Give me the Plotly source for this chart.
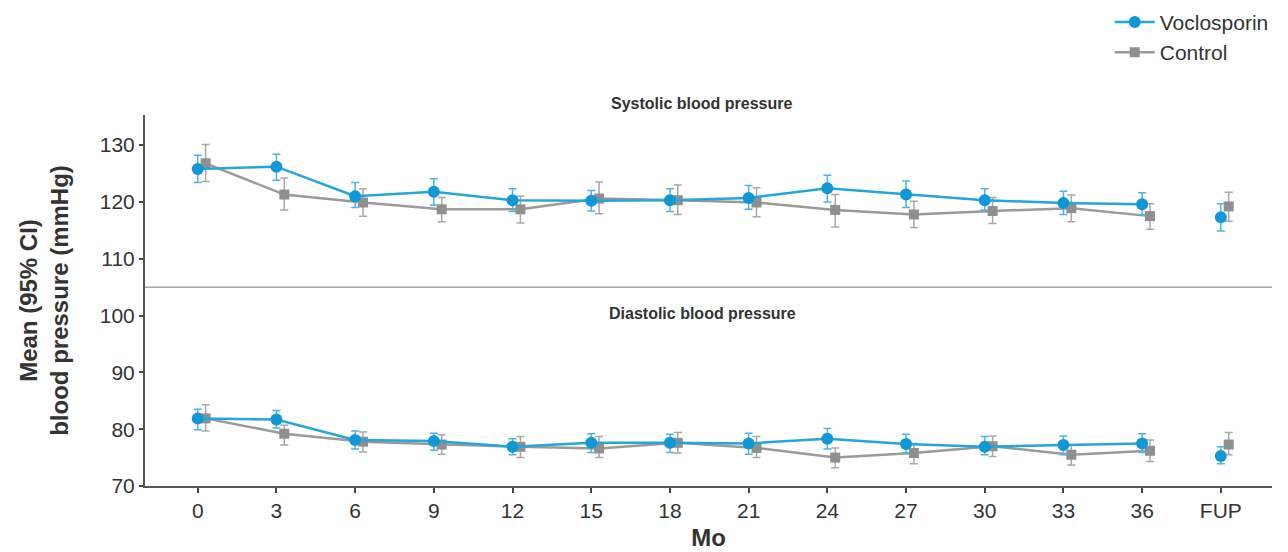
import plotly.graph_objects as go

months = ["0", "3", "6", "9", "12", "15", "18", "21", "24", "27", "30", "33", "36", "FUP"]

# Systolic blood pressure (mmHg): mean, lower CI, upper CI
sys_voc = [125.8, 126.2, 121.0, 121.8, 120.3, 120.2, 120.3, 120.7, 122.4, 121.3, 120.3, 119.8, 119.6, 117.3]
sys_voc_lo = [123.4, 123.8, 119.0, 119.4, 118.3, 118.4, 118.3, 118.7, 120.0, 119.0, 118.6, 117.8, 117.7, 114.9]
sys_voc_hi = [128.2, 128.4, 123.4, 124.1, 122.3, 122.0, 122.3, 122.9, 124.7, 123.7, 122.3, 121.9, 121.6, 119.7]
sys_ctl = [126.8, 121.3, 119.9, 118.7, 118.7, 120.6, 120.3, 119.9, 118.6, 117.8, 118.4, 118.9, 117.5, 119.2]
sys_ctl_lo = [123.6, 118.6, 117.5, 116.5, 116.3, 117.9, 117.8, 117.4, 115.6, 115.5, 116.2, 116.5, 115.2, 116.6]
sys_ctl_hi = [130.1, 124.2, 122.3, 120.8, 121.0, 123.5, 123.0, 122.5, 121.3, 120.1, 120.8, 121.2, 119.7, 121.7]

# Diastolic blood pressure (mmHg)
dia_voc = [81.9, 81.7, 78.1, 77.9, 76.9, 77.6, 77.6, 77.5, 78.3, 77.4, 76.9, 77.2, 77.5, 75.3]
dia_voc_lo = [79.9, 80.2, 76.5, 76.3, 75.5, 75.9, 75.9, 75.6, 76.5, 75.8, 75.5, 75.5, 75.9, 73.9]
dia_voc_hi = [83.5, 83.3, 79.7, 79.3, 78.3, 79.2, 79.1, 79.3, 80.1, 79.1, 78.7, 78.8, 79.2, 76.9]
dia_ctl = [81.9, 79.2, 77.8, 77.3, 76.9, 76.6, 77.6, 76.7, 75.0, 75.8, 77.0, 75.5, 76.2, 77.3]
dia_ctl_lo = [79.7, 77.2, 76.0, 75.6, 75.0, 75.0, 75.8, 75.0, 73.2, 73.9, 75.2, 73.7, 74.3, 75.5]
dia_ctl_hi = [84.3, 80.7, 79.5, 79.0, 78.7, 78.7, 79.4, 78.7, 76.7, 77.5, 78.8, 77.2, 78.1, 79.4]

BLUE = "#0f98d6"
BLUE_LINE = "#22a6dc"
BLUE_ERR = "#4fb4e2"
GRAY = "#8f8f8f"
GRAY_LINE = "#9a9a9a"
GRAY_ERR = "#a8a8a8"

fig = go.Figure()

n = len(months)
pos = list(range(n))
ctl_off = 0.1


def add_series(name, mean, lo, hi, offset, color, lcolor, ecolor, symbol, size, show, group):
    xs = [p + offset for p in pos]
    ep = [h - m for h, m in zip(hi, mean)]
    em = [m - l for m, l in zip(mean, lo)]
    # connected visits (0-36)
    fig.add_trace(go.Scatter(
        x=xs[:-1], y=mean[:-1], mode="lines+markers", name=name,
        legendgroup=group, showlegend=show,
        line=dict(color=lcolor, width=2.5),
        marker=dict(color=color, symbol=symbol, size=size),
        error_y=dict(type="data", symmetric=False, array=ep[:-1], arrayminus=em[:-1],
                     color=ecolor, thickness=1.5, width=4),
    ))
    # follow-up point (not connected)
    fig.add_trace(go.Scatter(
        x=xs[-1:], y=mean[-1:], mode="markers", name=name,
        legendgroup=group, showlegend=False,
        marker=dict(color=color, symbol=symbol, size=size),
        error_y=dict(type="data", symmetric=False, array=ep[-1:], arrayminus=em[-1:],
                     color=ecolor, thickness=1.5, width=4),
    ))


add_series("Control", sys_ctl, sys_ctl_lo, sys_ctl_hi, ctl_off, GRAY, GRAY_LINE, GRAY_ERR, "square", 10, False, "ctl")
add_series("Control", dia_ctl, dia_ctl_lo, dia_ctl_hi, ctl_off, GRAY, GRAY_LINE, GRAY_ERR, "square", 10, False, "ctl")
add_series("Voclosporin", sys_voc, sys_voc_lo, sys_voc_hi, 0, BLUE, BLUE_LINE, BLUE_ERR, "circle", 12, True, "voc")
add_series("Voclosporin", dia_voc, dia_voc_lo, dia_voc_hi, 0, BLUE, BLUE_LINE, BLUE_ERR, "circle", 12, False, "voc")

# legend entry for Control (after Voclosporin)
fig.add_trace(go.Scatter(
    x=[None], y=[None], mode="lines+markers", name="Control", legendgroup="ctl",
    line=dict(color=GRAY_LINE, width=2.5), marker=dict(color=GRAY, symbol="square", size=10),
))

fig.add_shape(type="line", xref="paper", yref="y", x0=0, x1=1, y0=105, y1=105,
              line=dict(color="#a6a6a6", width=1.5))

fig.add_annotation(text="<b>Systolic blood pressure</b>", xref="paper", yref="paper",
                   x=0.494, y=1.032, yanchor="middle", showarrow=False,
                   font=dict(size=16, color="#333333"))
fig.add_annotation(text="<b>Diastolic blood pressure</b>", xref="paper", yref="paper",
                   x=0.495, y=0.466, yanchor="middle", showarrow=False,
                   font=dict(size=16, color="#333333"))

fig.update_layout(
    width=1288, height=552,
    margin=dict(l=137, r=24, t=107, b=74, autoexpand=False),
    paper_bgcolor="white", plot_bgcolor="white",
    font=dict(family="Liberation Sans, Arial, sans-serif", color="#333333"),
    legend=dict(x=0.856, y=1.305, xanchor="left", yanchor="top",
                font=dict(size=21, color="#333333"), itemwidth=40,
                tracegroupgap=0, bgcolor="rgba(0,0,0,0)"),
    xaxis=dict(
        range=[-0.67, 13.65], tickmode="array", tickvals=pos, ticktext=months,
        showline=True, linecolor="#555555", linewidth=2, ticks="outside",
        tickcolor="#444444", tickwidth=2, ticklen=5, showgrid=False, zeroline=False,
        tickfont=dict(size=21, color="#333333"), automargin=False,
        title=dict(text="<b>Mo</b>", font=dict(size=24, color="#333333"), standoff=8),
    ),
    yaxis=dict(
        range=[70, 135.3], tickmode="array", tickvals=[70, 80, 90, 100, 110, 120, 130],
        showline=True, linecolor="#555555", linewidth=2, ticks="outside",
        tickcolor="#444444", tickwidth=1.5, ticklen=4, showgrid=False, zeroline=False,
        tickfont=dict(size=21, color="#333333"), automargin=False,
        title=dict(text="<b>Mean (95% CI)<br>blood pressure (mmHg)</b>",
                   font=dict(size=24, color="#333333"), standoff=24),
    ),
)

fig.write_html("out.html")
